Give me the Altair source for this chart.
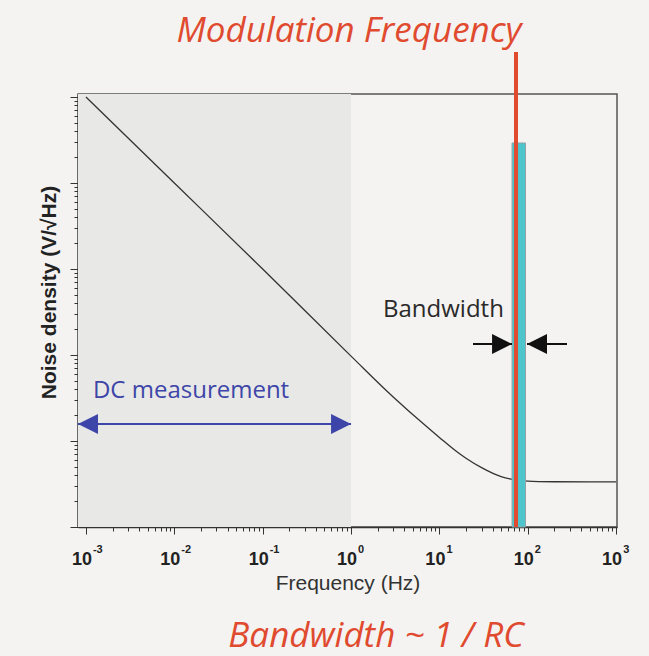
import altair as alt
import pandas as pd

W, H = 539, 433

# ---- scales (log) ----
x_domain = [0.000813, 1023]
y_domain = [1, 108400]

# ---- noise curve ----
curve_f = [0.001, 0.01, 0.1, 1, 3, 7, 10, 15, 20, 30, 50, 70, 100, 200, 500, 1000]
curve_v = [100000, 10000, 1000, 97, 32.5, 15, 11, 7.8, 6.3, 4.9, 3.85, 3.55, 3.42, 3.36, 3.34, 3.34]

# ---- x tick labels ----
major_x = [0.001, 0.01, 0.1, 1, 10, 100, 1000]
exponents = ["-3", "-2", "-1", "0", "1", "2", "3"]
x_ticks = [m * 10.0 ** k for k in range(-3, 3) for m in range(1, 10)] + [1000]
y_ticks = [m * 10.0 ** k for k in range(0, 5) for m in range(1, 10)] + [100000]

# ---- regions / marks ----
dc_region = [0.000813, 1.0]          # shaded "DC" region (Hz)
mod_freq = 73.6                      # modulation frequency (Hz)
mod_top = 334000
band = [66.4, 94.2]                  # bandwidth bar (Hz)
band_top = 29200
dc_arrow_v = 15.8
bw_arrow_v = 134
bw_left = [24, 66.4]                 # tail, tip
bw_right = [278, 98]                 # tail, tip

RED = "#e04a2f"
BLUE = "#3d46a8"
CYAN = "#4ec5cc"
BG = "#f4f3f1"

xs = alt.Scale(type="log", domain=x_domain)
ys = alt.Scale(type="log", domain=y_domain)

MAJOR = "abs(log(datum.value)/LN10 - round(log(datum.value)/LN10)) < 0.001"

AX = alt.Axis(values=x_ticks, labels=False, grid=False,
              tickSize={"condition": {"test": MAJOR, "value": 7}, "value": 4},
              tickColor="#333333", tickWidth=1,
              domainColor="#333333", domainWidth=1.5,
              title="Frequency (Hz)", titleFont="Liberation Sans",
              titleFontSize=21, titleFontWeight="normal",
              titleColor="#333333", titleY=62,
              titleBaseline="alphabetic")
AY = alt.Axis(values=y_ticks, labels=False, grid=False,
              tickSize={"condition": {"test": MAJOR, "value": 8}, "value": 4},
              tickColor="#333333", tickWidth=1,
              domainColor="#333333", domainWidth=1.5,
              title="Noise density (V/√Hz)", titleFont="Liberation Sans",
              titleFontSize=21, titleFontWeight="bold",
              titleColor="#222222", titleAngle=270,
              titleX=-23, titleY=198, titleAlign="center",
              titleBaseline="alphabetic")


def X(field):
    return alt.X(field, type="quantitative", scale=xs, axis=AX)


def Y(field):
    return alt.Y(field, type="quantitative", scale=ys, axis=AY)


# shaded region
shade_df = pd.DataFrame({"x1": [dc_region[0]], "x2": [dc_region[1]],
                         "y1": [y_domain[0]], "y2": [y_domain[1]]})
shade = alt.Chart(shade_df).mark_rect(color="#e8e8e7").encode(
    x=X("x1"), x2="x2", y=Y("y1"), y2="y2")

# noise curve
curve_df = pd.DataFrame({"f": curve_f, "v": curve_v})
curve = alt.Chart(curve_df).mark_line(color="#333333", strokeWidth=1.3,
                                      interpolate="monotone").encode(
    x=X("f"), y=Y("v"))

# bandwidth bar
bar_df = pd.DataFrame({"x1": [band[0]], "x2": [band[1]], "y1": [y_domain[0]], "y2": [band_top]})
bar = alt.Chart(bar_df).mark_rect(color=CYAN, stroke="#8fa3a5", strokeWidth=1).encode(
    x=X("x1"), x2="x2", y=Y("y1"), y2="y2")

# modulation frequency line
red_df = pd.DataFrame({"f": [mod_freq], "y1": [y_domain[0]], "y2": [mod_top]})
red = alt.Chart(red_df).mark_rule(color=RED, strokeWidth=4).encode(
    x=X("f"), y=Y("y1"), y2="y2")

# DC arrow
LEFT_TRI = "M 0 0 L 2 -1 L 2 1 Z"
RIGHT_TRI = "M 0 0 L -2 -1 L -2 1 Z"
dc_df = pd.DataFrame({"x1": [dc_region[0]], "x2": [dc_region[1]], "v": [dc_arrow_v]})
dc_line = alt.Chart(dc_df).mark_rule(color=BLUE, strokeWidth=2).encode(
    x=X("x1"), x2="x2", y=Y("v"))
dc_l = alt.Chart(pd.DataFrame({"f": [dc_region[0]], "v": [dc_arrow_v]})).mark_point(
    shape=LEFT_TRI, filled=True, size=400, color=BLUE, opacity=1, strokeWidth=0).encode(
    x=X("f"), y=Y("v"))
dc_r = alt.Chart(pd.DataFrame({"f": [dc_region[1]], "v": [dc_arrow_v]})).mark_point(
    shape=RIGHT_TRI, filled=True, size=400, color=BLUE, opacity=1, strokeWidth=0).encode(
    x=X("f"), y=Y("v"))

# bandwidth arrows
bw_df = pd.DataFrame({"x1": [bw_left[0], bw_right[0]], "x2": [bw_left[1], bw_right[1]],
                      "v": [bw_arrow_v] * 2})
bw_lines = alt.Chart(bw_df).mark_rule(color="#111111", strokeWidth=2).encode(
    x=X("x1"), x2="x2", y=Y("v"))
bw_r = alt.Chart(pd.DataFrame({"f": [bw_left[1]], "v": [bw_arrow_v]})).mark_point(
    shape=RIGHT_TRI, filled=True, size=400, color="#111111", opacity=1, strokeWidth=0).encode(
    x=X("f"), y=Y("v"))
bw_l = alt.Chart(pd.DataFrame({"f": [bw_right[1]], "v": [bw_arrow_v]})).mark_point(
    shape=LEFT_TRI, filled=True, size=400, color="#111111", opacity=1, strokeWidth=0).encode(
    x=X("f"), y=Y("v"))

# x tick labels (10 with superscript exponent)
lab_df = pd.DataFrame({"f": major_x, "base": ["10"] * len(major_x), "exp": exponents})
lab_base = alt.Chart(lab_df).mark_text(align="right", baseline="alphabetic", dx=6,
                                       font="Liberation Sans", fontSize=18,
                                       fontWeight="bold", color="#222222").encode(
    x=X("f"), text="base:N", y=alt.value(H + 38))
lab_exp = alt.Chart(lab_df).mark_text(align="left", baseline="alphabetic", dx=7,
                                      font="Liberation Sans", fontSize=11,
                                      fontWeight="bold", color="#222222").encode(
    x=X("f"), text="exp:N", y=alt.value(H + 26))


# annotation texts
def note(text, f, v, align, size, color, style="normal", font="Open Sans"):
    df = pd.DataFrame({"f": [f], "v": [v], "t": [text]})
    return alt.Chart(df).mark_text(align=align, baseline="alphabetic", font=font,
                                   fontSize=size, fontStyle=style, color=color).encode(
        x=X("f"), y=Y("v"), text="t:N")


t_title = note("Modulation Frequency", 0.95, 436000, "center", 35, RED, "italic")
t_bottom = note("Bandwidth ~ 1 / RC", 1.92, 0.0403, "center", 35, RED, "italic")
t_dc = note("DC measurement", 0.0012, 31.6, "left", 24, BLUE)
t_bw = note("Bandwidth", 2.3, 277, "left", 24, "#2a2a2a")

chart = alt.layer(
    shade, curve, bar, red, dc_line, dc_l, dc_r, bw_lines, bw_r, bw_l,
    lab_base, lab_exp, t_title, t_bottom, t_dc, t_bw
).properties(
    width=W, height=H,
    padding={"left": 78, "top": 94, "right": 32, "bottom": 129},
    autosize=alt.AutoSizeParams(type="none"),
    background=BG,
).configure_view(stroke="#555555", strokeWidth=1.5)

chart.save("out.html", embed_options={"renderer": "svg", "actions": False})
